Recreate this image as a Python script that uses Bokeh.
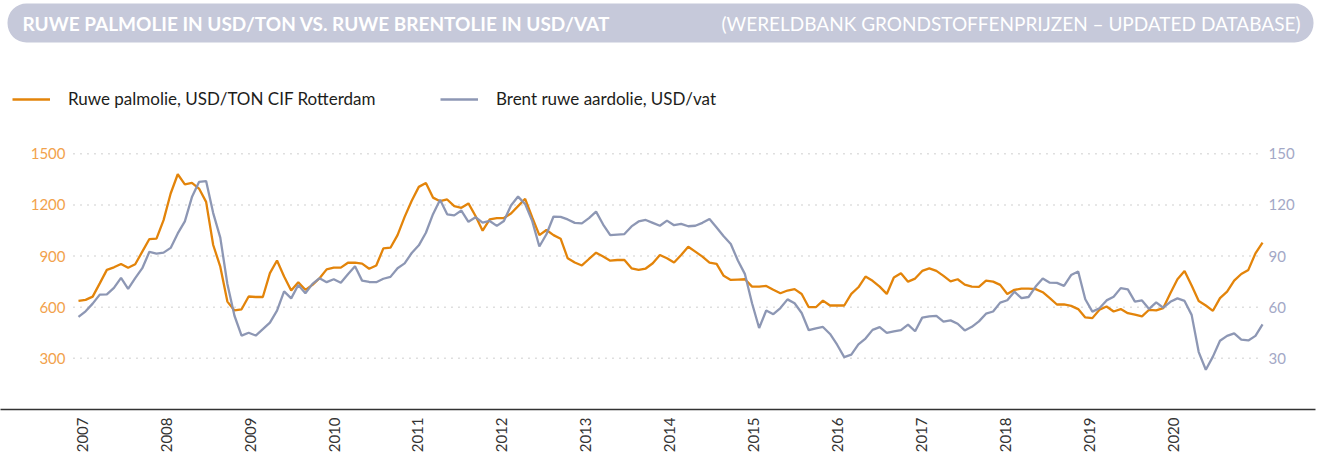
from bokeh.plotting import figure
from bokeh.models import (Range1d, FixedTicker, Legend, LegendItem,
                          BoxAnnotation, Label)
from bokeh.core.properties import value
from bokeh.embed import file_html
from bokeh.resources import INLINE

# ---------------- data (monthly, Jan 2007 - Dec 2020) ----------------
years = [str(y) for y in range(2007, 2021)]

palm = [
    637, 643, 662, 740, 819, 834, 854, 832, 852, 926, 1000, 1002,      # 2007
    1111, 1267, 1380, 1321, 1329, 1296, 1218, 965, 838, 633, 581, 588,  # 2008
    663, 660, 660, 800, 874, 780, 698, 747, 702, 731, 770, 822,         # 2009
    832, 832, 861, 861, 856, 826, 845, 945, 949, 1023, 1130, 1225,      # 2010
    1306, 1329, 1243, 1222, 1232, 1193, 1183, 1209, 1135, 1049, 1115, 1123,  # 2011
    1123, 1150, 1193, 1236, 1127, 1023, 1053, 1023, 1002, 887, 862, 845,     # 2012
    883, 920, 897, 873, 877, 877, 828, 819, 827, 858, 906, 887,         # 2013
    862, 906, 955, 926, 897, 862, 854, 784, 760, 762, 764, 721,         # 2014
    721, 725, 702, 682, 698, 706, 678, 600, 600, 639, 610, 610,         # 2015
    610, 678, 717, 780, 755, 721, 678, 774, 799, 750, 768, 813,         # 2016
    828, 813, 784, 752, 764, 733, 721, 719, 756, 750, 731, 678,         # 2017
    702, 709, 709, 706, 688, 653, 616, 616, 608, 589, 540, 536,         # 2018
    585, 604, 575, 589, 565, 556, 546, 585, 581, 595, 682, 764,         # 2019
    813, 727, 637, 610, 579, 653, 692, 756, 795, 819, 916, 979,         # 2020
]

brent = [
    54.3, 57.6, 62.1, 67.4, 67.5, 71.3, 77.2, 70.8, 77.1, 82.9, 92.5, 91.5,
    92.0, 94.8, 103.3, 110.4, 124.6, 133.5, 134.0, 115.2, 100.8, 73.6, 55.0, 43.3,
    45.0, 43.4, 47.1, 51.0, 58.0, 69.3, 65.2, 73.0, 68.2, 73.7, 77.0, 74.7,
    76.4, 74.3, 79.3, 84.0, 75.6, 74.8, 74.7, 76.7, 77.8, 82.9, 85.7, 91.8,
    96.3, 103.7, 114.6, 123.0, 114.5, 113.9, 116.7, 110.1, 112.8, 109.6, 110.6, 107.7,
    110.6, 119.7, 124.9, 120.5, 110.5, 95.6, 102.8, 113.2, 113.0, 111.5, 109.5, 109.2,
    112.3, 116.1, 108.5, 102.3, 102.6, 102.9, 107.4, 110.3, 111.2, 109.5, 107.8, 110.8,
    108.1, 108.9, 107.5, 107.8, 109.5, 111.8, 106.8, 101.6, 97.1, 87.4, 79.4, 62.3,
    47.8, 58.1, 55.9, 59.5, 64.6, 62.3, 56.6, 46.5, 47.6, 48.4, 44.3, 38.0,
    30.7, 32.2, 38.2, 41.6, 46.7, 48.3, 44.9, 45.8, 46.6, 49.8, 45.9, 53.9,
    54.6, 54.9, 51.6, 52.3, 50.3, 46.4, 48.5, 51.7, 56.2, 57.5, 62.7, 64.1,
    69.1, 65.3, 66.0, 72.1, 76.9, 74.4, 74.3, 72.5, 78.9, 81.0, 64.7, 57.4,
    59.4, 64.0, 66.1, 71.2, 70.5, 63.3, 64.0, 59.0, 62.8, 59.7, 63.2, 65.2,
    63.7, 55.5, 33.7, 23.3, 31.0, 40.3, 43.2, 44.7, 41.0, 40.5, 43.2, 49.9,
]

left_ticks = [300, 600, 900, 1200, 1500]
right_ticks = [30, 60, 90, 120, 150]
left_tick_labels = [str(t) for t in left_ticks]
right_tick_labels = [str(t) for t in right_ticks]

title_left = "RUWE PALMOLIE IN USD/TON VS. RUWE BRENTOLIE IN USD/VAT"
title_right = "(WERELDBANK GRONDSTOFFENPRIJZEN \u2013 UPDATED DATABASE)"
label_palm = "Ruwe palmolie, USD/TON CIF Rotterdam"
label_brent = "Brent ruwe aardolie, USD/vat"

months = list(range(len(palm)))

# ---------------- styling ----------------
FONT = "Lato"
ORANGE = "#e3840a"
GREY = "#8791b0"
ORANGE_TXT = "#f2a24c"
GREY_TXT = "#a3a8c6"

# month index i is drawn at x = 78 + 7.09 * i px ; value v at y = 409 - 0.17047 * v px
X0, X1 = -11.0, 174.47
Y1 = 2399.3

p = figure(width=1328, height=461, output_backend="svg", toolbar_location=None,
           x_range=Range1d(X0, X1), y_range=Range1d(0, Y1),
           y_axis_location=None,
           min_border_left=0, min_border_right=13, min_border_top=0,
           min_border_bottom=52)
p.outline_line_color = None
p.background_fill_color = "white"
p.border_fill_color = "white"
p.extra_y_ranges = {"brent": Range1d(0, Y1 / 10)}
p.xgrid.visible = False
p.ygrid.visible = False

# dotted gridlines at the tick values
p.segment(x0=-0.705, x1=166.43, y0=left_ticks, y1=left_ticks,
          line_color="#bfbfbf", line_dash="1 6", line_width=1.5)

# tick labels of both value axes
p.text(x=-1.834, y=left_ticks, text=left_tick_labels, text_align="right",
       text_baseline="middle", text_font=value(FONT), text_font_size="15px",
       text_color=ORANGE_TXT)
p.text(x=167.84, y=right_ticks, text=right_tick_labels, text_align="left",
       text_baseline="middle", text_font=value(FONT), text_font_size="15px",
       text_color=GREY_TXT, y_range_name="brent")

# lines
r_palm = p.line(months, palm, line_color=ORANGE, line_width=2.3)
r_brent = p.line(months, brent, y_range_name="brent", line_color=GREY,
                 line_width=2.3, line_alpha=0.95)

# x axis: baseline + year labels
year_ticks = [round(0.52 + 11.84 * k, 2) for k in range(len(years))]
xa = p.xaxis[0]
xa.ticker = FixedTicker(ticks=year_ticks)
xa.major_label_overrides = {t: y for t, y in zip(year_ticks, years)}
xa.major_label_orientation = 3.14159265 / 2
xa.axis_line_color = "#333333"
xa.axis_line_width = 1.5
xa.major_tick_line_color = None
xa.minor_tick_line_color = None
xa.major_tick_in = 0
xa.major_tick_out = 0
xa.major_label_standoff = 8
xa.major_label_text_font = FONT
xa.major_label_text_font_size = "15px"
xa.major_label_text_color = "#333333"

# legends
for item_label, rend, loc in ((label_palm, r_palm, (12, 300)), (label_brent, r_brent, (440, 300))):
    leg = Legend(items=[LegendItem(label=item_label, renderers=[rend])], location=loc,
                 orientation="horizontal", padding=0, margin=0, border_line_color=None,
                 background_fill_alpha=0, glyph_width=38, glyph_height=20, label_standoff=18,
                 label_text_font=FONT, label_text_font_size="17px",
                 label_text_color="#1d1d1b")
    p.add_layout(leg)

# header banner
p.add_layout(BoxAnnotation(left=-10.01, right=174.19, top=2381.7, bottom=2152.9,
                           fill_color="#c6c9da", fill_alpha=1, line_color=None,
                           border_radius=19))
p.add_layout(Label(x=-7.9, y=2267.3, text=title_left, text_align="left",
                   text_baseline="middle", text_font=FONT, text_font_style="bold",
                   text_font_size="19px", text_color="white"))
p.add_layout(Label(x=172.36, y=2267.3, text=title_right, text_align="right",
                   text_baseline="middle", text_font=FONT, text_font_style="normal",
                   text_font_size="19px", text_color="white"))

open("out.html", "w").write(file_html(p, INLINE))
